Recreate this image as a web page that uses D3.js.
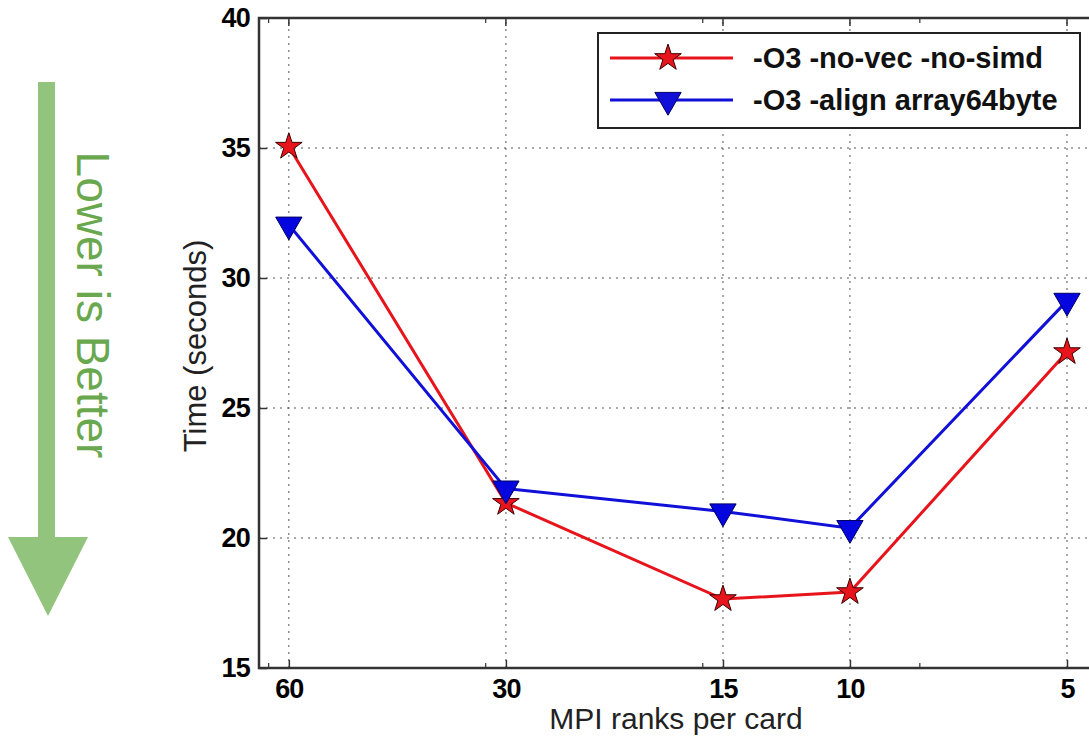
<!DOCTYPE html>
<html>
<head>
<meta charset="utf-8">
<script src="https://cdn.jsdelivr.net/npm/d3@7"></script>
<style>
  body { margin: 0; background: #fff; }
  svg { display: block; font-family: "Liberation Sans", Arial, sans-serif; }
</style>
</head>
<body>
<div id="chart"></div>
<script>
// ranks per card on a reversed log axis
const ranks = [60, 30, 15, 10, 5];
const minorTicks = [64, 32, 16, 8];
const yTicks = [15, 20, 25, 30, 35, 40];

const noVec = [35.05, 21.35, 17.65, 17.92, 27.15];
const align64 = [32.05, 21.9, 21.02, 20.38, 29.12];

const seriesNames = ["-O3 -no-vec -no-simd", "-O3 -align array64byte"];

const width = 1089, height = 738;
const margin = {top: 18, left: 259, bottom: 70};

let svg = d3.select("#chart").append("svg")
  .attr("width", width)
  .attr("height", height);

let x = d3.scaleLog().domain([66, 4.5]).range([margin.left, 1100]);
let y = d3.scaleLinear().domain([15, 40]).range([height - margin.bottom, margin.top]);

let plot = svg.append("g");
let x0 = x.range()[0], x1 = x.range()[1];
let y0 = y.range()[0], y1 = y.range()[1];

// dotted grid
plot.selectAll("line.vgrid")
  .data(ranks)
  .enter().append("line")
  .attr("x1", d => x(d)).attr("x2", d => x(d))
  .attr("y1", y0).attr("y2", y1)
  .attr("stroke", "#555").attr("stroke-width", 1)
  .attr("stroke-dasharray", "2,5");
plot.selectAll("line.hgrid")
  .data(yTicks.slice(1, -1))
  .enter().append("line")
  .attr("y1", d => y(d)).attr("y2", d => y(d))
  .attr("x1", x0).attr("x2", x1)
  .attr("stroke", "#555").attr("stroke-width", 1)
  .attr("stroke-dasharray", "2,5");

// frame
plot.append("rect")
  .attr("x", x0).attr("y", y1)
  .attr("width", x1 - x0).attr("height", y0 - y1)
  .attr("fill", "none").attr("stroke", "#333").attr("stroke-width", 2.5);

// axes
let xAxis = d3.axisBottom(x).tickValues(ranks).tickFormat(d3.format("d")).tickSize(-8).tickPadding(11);
let xg = plot.append("g").attr("transform", "translate(0," + y0 + ")").call(xAxis);
let yAxis = d3.axisLeft(y).tickValues(yTicks).tickSize(-8).tickPadding(9);
let yg = plot.append("g").attr("transform", "translate(" + x0 + ",0)").call(yAxis);
[xg, yg].forEach(g => {
  g.select(".domain").remove();
  g.selectAll("line").attr("stroke", "#333").attr("stroke-width", 1.5);
  g.selectAll("text")
    .attr("font-size", 27).attr("font-weight", "bold")
    .attr("font-family", "Liberation Sans, Arial, sans-serif")
    .attr("letter-spacing", -0.8).attr("fill", "#000");
});
xg.selectAll("text").attr("dy", "0.71em");

// top ticks and minor ticks
plot.selectAll("line.topTick")
  .data(ranks)
  .enter().append("line")
  .attr("x1", d => x(d)).attr("x2", d => x(d))
  .attr("y1", y1).attr("y2", y1 + 8)
  .attr("stroke", "#333").attr("stroke-width", 1.5);
minorTicks.forEach(v => {
  [[y0, y0 - 5], [y1, y1 + 5]].forEach(p => {
    plot.append("line")
      .attr("x1", x(v)).attr("x2", x(v))
      .attr("y1", p[0]).attr("y2", p[1])
      .attr("stroke", "#333").attr("stroke-width", 1.2);
  });
});
yTicks.forEach(v => {
  plot.append("line")
    .attr("x1", x1).attr("x2", x1 - 8)
    .attr("y1", y(v)).attr("y2", y(v))
    .attr("stroke", "#333").attr("stroke-width", 1.5);
});

// axis titles
svg.append("text")
  .attr("transform", "translate(206," + ((y0 + y1) / 2 + 3) + ") rotate(-90)")
  .attr("text-anchor", "middle")
  .attr("font-size", 31)
  .attr("fill", "#222")
  .text("Time (seconds)");
svg.append("text")
  .attr("x", 676).attr("y", 729)
  .attr("text-anchor", "middle")
  .attr("font-size", 30)
  .attr("fill", "#222")
  .text("MPI ranks per card");

// series lines
let line = d3.line().x((d, i) => x(ranks[i])).y(d => y(d));
plot.append("path").datum(noVec)
  .attr("d", line).attr("fill", "none")
  .attr("stroke", "#e8141c").attr("stroke-width", 3);
plot.append("path").datum(align64)
  .attr("d", line).attr("fill", "none")
  .attr("stroke", "#1010d8").attr("stroke-width", 3);

let star = d3.symbol().type(d3.symbolStar).size(220);
let tri = d3.symbol().type(d3.symbolTriangle).size(300);

plot.selectAll("path.star")
  .data(noVec)
  .enter().append("path")
  .attr("d", star)
  .attr("transform", (d, i) => "translate(" + x(ranks[i]) + "," + y(d) + ")")
  .attr("fill", "#e8141c").attr("stroke", "#3a0000").attr("stroke-width", 1);
plot.selectAll("path.tri")
  .data(align64)
  .enter().append("path")
  .attr("d", tri)
  .attr("transform", (d, i) => "translate(" + x(ranks[i]) + "," + y(d) + ") rotate(180)")
  .attr("fill", "#0505e0").attr("stroke", "#000060").attr("stroke-width", 1);

// legend
let legend = svg.append("g").attr("transform", "translate(598,33)");
legend.append("rect")
  .attr("width", 482).attr("height", 95)
  .attr("fill", "#fff").attr("stroke", "#222").attr("stroke-width", 2);
let rows = [
  {name: seriesNames[0], color: "#e8141c", sym: star, rot: 0, stroke: "#3a0000"},
  {name: seriesNames[1], color: "#1010d8", sym: tri, rot: 180, stroke: "#000060"}
];
rows.forEach((r, i) => {
  let ry = 25 + i * 42;
  legend.append("line")
    .attr("x1", 12).attr("x2", 135).attr("y1", ry).attr("y2", ry)
    .attr("stroke", r.color).attr("stroke-width", 3);
  legend.append("path")
    .attr("d", r.sym)
    .attr("transform", "translate(70," + ry + ") rotate(" + r.rot + ")")
    .attr("fill", r.color).attr("stroke", r.stroke).attr("stroke-width", 1);
  legend.append("text")
    .attr("x", 155).attr("y", ry + 10)
    .attr("font-size", 29).attr("font-weight", "bold")
    .attr("fill", "#111")
    .text(r.name);
});

// "Lower is Better" arrow
let arrow = svg.append("g");
arrow.append("rect")
  .attr("x", 38).attr("y", 82).attr("width", 17).attr("height", 458)
  .attr("fill", "#93c47d");
arrow.append("path")
  .attr("d", "M8,537 L88,537 L48,616 Z")
  .attr("fill", "#93c47d");
arrow.append("text")
  .attr("transform", "translate(77,305) rotate(90)")
  .attr("text-anchor", "middle")
  .attr("font-family", "Liberation Sans, Arial, sans-serif")
  .attr("font-size", 46)
  .attr("fill", "#6aa84f")
  .text("Lower is Better");
</script>
</body>
</html>
